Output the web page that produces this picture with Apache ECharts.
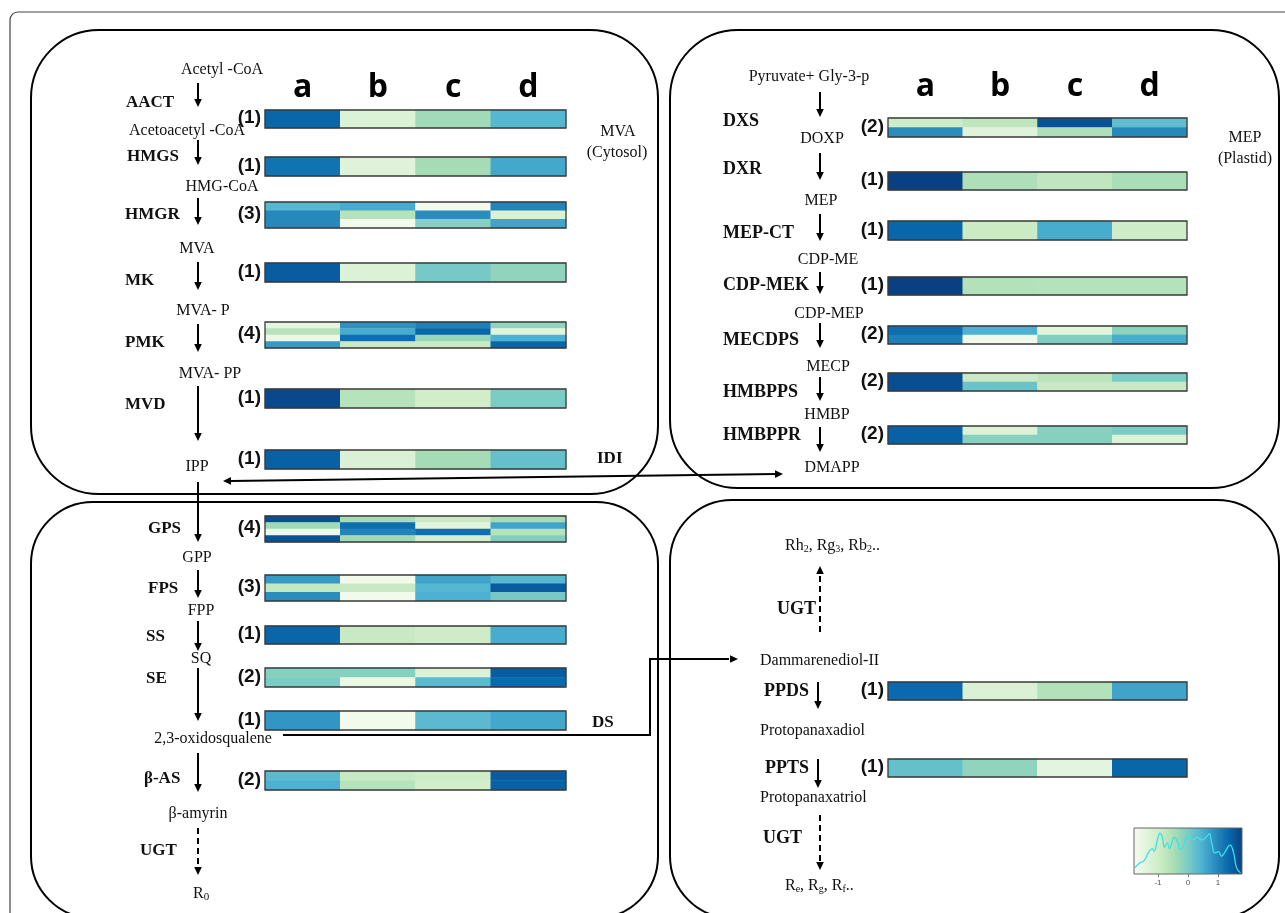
<!DOCTYPE html>
<html><head><meta charset="utf-8">
<script src="https://cdn.jsdelivr.net/npm/echarts@6/dist/echarts.min.js"></script>
<style>html,body{margin:0;padding:0;background:#fff}#c{width:1285px;height:913px}</style>
</head><body><div id="c"></div>
<script>
// ---------------- DATA ----------------
const samples = ['a', 'b', 'c', 'd'];
// z-scores per gene copy (rows) across samples a,b,c,d
const AACT   = [[1.3, -1.2, -0.35, 0.35]];
const HMGS   = [[1.15, -1.25, -0.4, 0.55]];
const HMGR   = [[0.35, 0.5, -1.6, 0.95], [0.9, -0.6, 0.85, -1.15], [0.9, -1.6, -0.1, 0.6]];
const MK     = [[1.4, -1.2, 0.05, -0.2]];
const PMK    = [[-1.4, 0.8, 1.0, -0.2], [-0.6, 0.5, 1.3, -1.3], [-1.5, 1.2, -0.25, 0.45], [0.7, -0.8, -0.8, 1.3]];
const MVD    = [[1.6, -0.6, -0.95, 0.0]];
const IDI    = [[1.35, -1.15, -0.4, 0.2]];
const GPS    = [[1.55, -0.4, -0.8, -0.4], [-0.35, 1.2, -1.3, 0.6], [-1.55, 0.95, 1.2, -0.6], [1.5, -0.35, -1.0, -0.05]];
const FPS    = [[0.7, -1.6, 0.6, 0.35], [-0.75, -0.8, 0.35, 1.4], [0.85, -1.6, 0.45, 0.05]];
const SS     = [[1.3, -0.8, -0.9, 0.5]];
const SE     = [[-0.1, -0.1, -1.2, 1.4], [0.0, -1.5, 0.3, 1.25]];
const DS     = [[0.75, -1.6, 0.3, 0.55]];
const BAS    = [[0.3, -0.8, -0.9, 1.4], [0.45, -0.6, -0.95, 1.35]];
const DXS    = [[-0.9, -0.7, 1.5, 0.25], [0.85, -1.25, -0.5, 0.9]];
const DXR    = [[1.7, -0.5, -0.7, -0.45]];
const MEPCT  = [[1.3, -0.85, 0.5, -0.9]];
const CDPMEK = [[1.7, -0.55, -0.57, -0.57]];
const MECDPS = [[1.2, 0.45, -1.3, -0.15], [1.0, -1.55, -0.05, 0.5]];
const HMBPPS = [[1.55, -0.8, -0.65, 0.0], [1.55, 0.15, -0.8, -0.8]];
const HMBPPR = [[1.35, -1.2, -0.1, 0.0], [1.35, -0.1, -0.1, -1.2]];
const PPDS   = [[1.25, -1.15, -0.55, 0.6]];
const PPTS   = [[0.2, -0.2, -1.35, 1.3]];
// density curve of the colour key (x = z-score, y = relative density)
const densX = [-1.77,-1.63,-1.46,-1.30,-1.19,-1.13,-1.02,-0.93,-0.86,-0.78,-0.69,-0.62,-0.53,-0.47,-0.36,-0.25,-0.14,-0.03,0.08,0.19,0.30,0.46,0.63,0.71,0.79,0.90,1.01,1.12,1.23,1.40,1.51,1.62,1.75];
const densY = [0.14,0.24,0.31,0.51,0.58,0.52,0.78,0.93,0.85,0.61,0.71,0.58,0.73,0.84,0.75,0.56,0.65,0.86,0.82,0.78,0.84,0.78,0.86,0.92,0.71,0.48,0.51,0.41,0.50,0.66,0.51,0.14,0.03];
const keyTicks = [-1, 0, 1];

// ---------------- LAYOUT ----------------
const geneData = {AACT,HMGS,HMGR,MK,PMK,MVD,IDI,GPS,FPS,SS,SE,DS,BAS,DXS,DXR,MEPCT,CDPMEK,MECDPS,HMBPPS,HMBPPR,PPDS,PPTS};
const LX = 265, LW = 301, RX = 888, RW = 299;
const barLayout = {
  AACT:[LX,110,18], HMGS:[LX,157,19], HMGR:[LX,202,26], MK:[LX,263,19], PMK:[LX,322,26],
  MVD:[LX,389,19], IDI:[LX,450,19], GPS:[LX,516,26], FPS:[LX,575,26], SS:[LX,626,18],
  SE:[LX,668,19], DS:[LX,711,19], BAS:[LX,771,19],
  DXS:[RX,118,19], DXR:[RX,172,18], MEPCT:[RX,221,19], CDPMEK:[RX,277,18], MECDPS:[RX,326,18],
  HMBPPS:[RX,373,18], HMBPPR:[RX,426,18], PPDS:[RX,682,18], PPTS:[RX,759,18]
};
const GnBu = ['#f7fcf0','#e0f3db','#ccebc5','#a8ddb5','#7bccc4','#4eb3d3','#2b8cbe','#0868ac','#084081'];

const grids = [], xAxes = [], yAxes = [], series = [], graphics = [];
const names = Object.keys(geneData);
names.forEach((g, i) => {
  const rows = geneData[g];
  const [x, y, h] = barLayout[g];
  const w = x === LX ? LW : RW;
  grids.push({left: x, top: y, width: w, height: h, show: true, z: 5,
    backgroundColor: 'transparent', borderColor: '#3a3a3a', borderWidth: 1.3});
  const isTop = (g === 'AACT' || g === 'DXS');
  xAxes.push({type: 'category', gridIndex: i, data: samples, position: 'top',
    axisLine: {show: false}, axisTick: {show: false}, splitLine: {show: false},
    axisLabel: {show: isTop, margin: g === 'AACT' ? 6 : 15, color: '#000',
      fontFamily: '"Open Sans"', fontWeight: 'bold', fontSize: 32}});
  yAxes.push({type: 'category', gridIndex: i, inverse: true, data: rows.map((r, k) => String(k + 1)),
    axisLine: {show: false}, axisTick: {show: false}, axisLabel: {show: false}, splitLine: {show: false}});
  const d = [];
  rows.forEach((r, ri) => r.forEach((v, ci) => d.push([ci, ri, v])));
  series.push({type: 'heatmap', xAxisIndex: i, yAxisIndex: i, data: d, emphasis: {disabled: true}});
  graphics.push({type: 'text', x: x - 4, y: y + h / 2 - 1, z: 10,
    style: {text: '(' + rows.length + ')', font: 'bold 19px "Liberation Sans Narrow","Liberation Sans"', fill: '#111', align: 'right', verticalAlign: 'middle'}});
});
// colour key grid
const ki = names.length;
grids.push({left: 1134, top: 828, width: 108, height: 46, show: true, borderColor: '#666', borderWidth: 1,
  backgroundColor: new echarts.graphic.LinearGradient(0, 0, 1, 0, GnBu.map((c, k) => ({offset: k / 8, color: c})))});
xAxes.push({type: 'value', gridIndex: ki, min: -1.8, max: 1.8, position: 'bottom',
  axisLine: {show: false}, splitLine: {show: false},
  axisTick: {show: true, length: 3, lineStyle: {color: '#777'}, customValues: keyTicks},
  axisLabel: {show: true, fontSize: 8, color: '#555', margin: 5, customValues: keyTicks}});
yAxes.push({type: 'value', gridIndex: ki, min: 0, max: 1.05, show: false});
series.push({type: 'line', xAxisIndex: ki, yAxisIndex: ki, smooth: true, showSymbol: false,
  data: densX.map((x, k) => [x, densY[k]]), lineStyle: {color: '#3ee0e8', width: 1.3}, silent: true});

// ---------------- DIAGRAM ANNOTATIONS ----------------
const MET = '16px "Liberation Serif"';
const ENZ = 'bold 17px "Liberation Serif"';
const ENZR = 'bold 18px "Liberation Serif"';
function txt(t, x, y, font, align) {
  graphics.push({type: 'text', x, y, z: 10, style: {text: t, font, fill: '#111', align: align || 'center', verticalAlign: 'middle'}});
}
function head(x1, y1, x2, y2) {
  const dx = x2 - x1, dy = y2 - y1, L = Math.hypot(dx, dy), ux = dx / L, uy = dy / L;
  const hl = 8, hw = 3.8;
  const bx = x2 - ux * hl, by = y2 - uy * hl;
  graphics.push({type: 'polygon', z: 10, shape: {points: [[x2, y2], [bx - uy * hw, by + ux * hw], [bx + uy * hw, by - ux * hw]]}, style: {fill: '#000'}});
  return [bx + ux, by + uy];
}
function arrow(x1, y1, x2, y2, dashed, both) {
  let s = [x1, y1];
  if (both) s = head(x2, y2, x1, y1);
  const e = head(x1, y1, x2, y2);
  graphics.push({type: 'line', z: 10, shape: {x1: s[0], y1: s[1], x2: e[0], y2: e[1]},
    style: {stroke: '#000', lineWidth: 2, lineDash: dashed ? [6, 4] : null}});
}
function box(x, y, w, h, r) {
  graphics.push({type: 'rect', z: 1, shape: {x, y, width: w, height: h, r}, style: {fill: 'none', stroke: '#000', lineWidth: 2}});
}
// outer frame and compartments
graphics.push({type: 'rect', z: 0, shape: {x: 10, y: 12, width: 1300, height: 930, r: 8}, style: {fill: 'none', stroke: '#444', lineWidth: 1.2}});
box(31, 30, 627, 464, 68);
box(670, 30, 609, 458, 68);
box(31, 502, 627, 416, 62);
box(670, 500, 609, 418, 62);

// MVA pathway
txt('Acetyl -CoA', 222, 70, MET);
arrow(198, 83, 198, 107); txt('AACT', 126, 103, ENZ, 'left');
txt('Acetoacetyl -CoA', 187, 131, MET);
arrow(198, 140, 198, 165); txt('HMGS', 127, 157, ENZ, 'left');
txt('HMG-CoA', 222, 187, MET);
arrow(198, 198, 198, 225); txt('HMGR', 125, 215, ENZ, 'left');
txt('MVA', 197, 249, MET);
arrow(198, 262, 198, 290); txt('MK', 125, 281, ENZ, 'left');
txt('MVA- P', 203, 311, MET);
arrow(198, 324, 198, 352); txt('PMK', 125, 343, ENZ, 'left');
txt('MVA- PP', 210, 374, MET);
arrow(198, 386, 198, 441); txt('MVD', 125, 405, ENZ, 'left');
txt('IPP', 197, 467, MET);
txt('MVA', 618, 132, MET); txt('(Cytosol)', 617, 153, MET);
txt('IDI', 597, 459, ENZ, 'left');
arrow(223, 481, 783, 474, false, true);

// triterpene backbone
arrow(198, 482, 198, 542); txt('GPS', 148, 529, ENZ, 'left');
txt('GPP', 197, 558, MET);
arrow(198, 570, 198, 598); txt('FPS', 148, 589, ENZ, 'left');
txt('FPP', 201, 611, MET);
arrow(198, 621, 198, 651); txt('SS', 146, 637, ENZ, 'left');
txt('SQ', 201, 659, MET);
arrow(198, 668, 198, 721); txt('SE', 146, 679, ENZ, 'left');
txt('2,3-oxidosqualene', 213, 739, MET);
txt('DS', 592, 723, ENZ, 'left');
arrow(198, 753, 198, 792); txt('β-AS', 144, 779, ENZ, 'left');
txt('β-amyrin', 198, 814, MET);
arrow(198, 828, 198, 875, true); txt('UGT', 140, 851, ENZ, 'left');
graphics.push({type: 'text', x: 193, y: 894, z: 10, style: {text: '{n|R}{s|0}', align: 'left', verticalAlign: 'middle',
  rich: {n: {font: MET, fill: '#111'}, s: {font: '11px "Liberation Serif"', fill: '#111', padding: [7, 0, 0, 0]}}}});
graphics.push({type: 'polyline', z: 10, shape: {points: [[283, 735], [650, 735], [650, 659], [729, 659]]}, style: {stroke: '#000', lineWidth: 2, fill: 'none'}});
head(650, 659, 738, 659);

// MEP pathway
txt('Pyruvate+ Gly-3-p', 809, 77, MET);
arrow(820, 92, 820, 117); txt('DXS', 723, 121, ENZR, 'left');
txt('DOXP', 822, 139, MET);
arrow(820, 153, 820, 180); txt('DXR', 723, 169, ENZR, 'left');
txt('MEP', 821, 201, MET);
arrow(820, 214, 820, 241); txt('MEP-CT', 723, 233, ENZR, 'left');
txt('CDP-ME', 828, 260, MET);
arrow(820, 272, 820, 294); txt('CDP-MEK', 723, 285, ENZR, 'left');
txt('CDP-MEP', 829, 314, MET);
arrow(820, 323, 820, 348); txt('MECDPS', 723, 340, ENZR, 'left');
txt('MECP', 828, 367, MET);
arrow(820, 377, 820, 401); txt('HMBPPS', 723, 392, ENZR, 'left');
txt('HMBP', 827, 415, MET);
arrow(820, 427, 820, 452); txt('HMBPPR', 723, 435, ENZR, 'left');
txt('DMAPP', 832, 468, MET);
txt('MEP', 1245, 138, MET); txt('(Plastid)', 1245, 159, MET);

// ginsenoside branch
const SUB = {n: {font: MET, fill: '#111'}, s: {font: '10px "Liberation Serif"', fill: '#111', padding: [7, 0, 0, 0]}};
graphics.push({type: 'text', x: 785, y: 546, z: 10, style: {text: '{n|Rh}{s|2}{n|, Rg}{s|3}{n|, Rb}{s|2}{n|..}', align: 'left', verticalAlign: 'middle', rich: SUB}});
arrow(820, 632, 820, 566, true); txt('UGT', 777, 609, ENZR, 'left');
txt('Dammarenediol-II', 760, 661, MET, 'left');
arrow(818, 682, 818, 709); txt('PPDS', 764, 691, ENZR, 'left');
txt('Protopanaxadiol', 760, 731, MET, 'left');
arrow(818, 759, 818, 788); txt('PPTS', 765, 768, ENZR, 'left');
txt('Protopanaxatriol', 760, 798, MET, 'left');
arrow(820, 815, 820, 870, true); txt('UGT', 763, 838, ENZR, 'left');
graphics.push({type: 'text', x: 785, y: 886, z: 10, style: {text: '{n|R}{s|e}{n|, R}{s|g}{n|, R}{s|f}{n|..}', align: 'left', verticalAlign: 'middle', rich: SUB}});

const chart = echarts.init(document.getElementById('c'), null, {renderer: 'canvas'});
chart.setOption({
  animation: false,
  backgroundColor: '#fff',
  grid: grids, xAxis: xAxes, yAxis: yAxes,
  visualMap: {type: 'continuous', show: false, min: -1.7, max: 1.7, dimension: 2,
    seriesIndex: names.map((n, i) => i), inRange: {color: GnBu}},
  series: series,
  graphic: {elements: graphics}
});
</script></body></html>
